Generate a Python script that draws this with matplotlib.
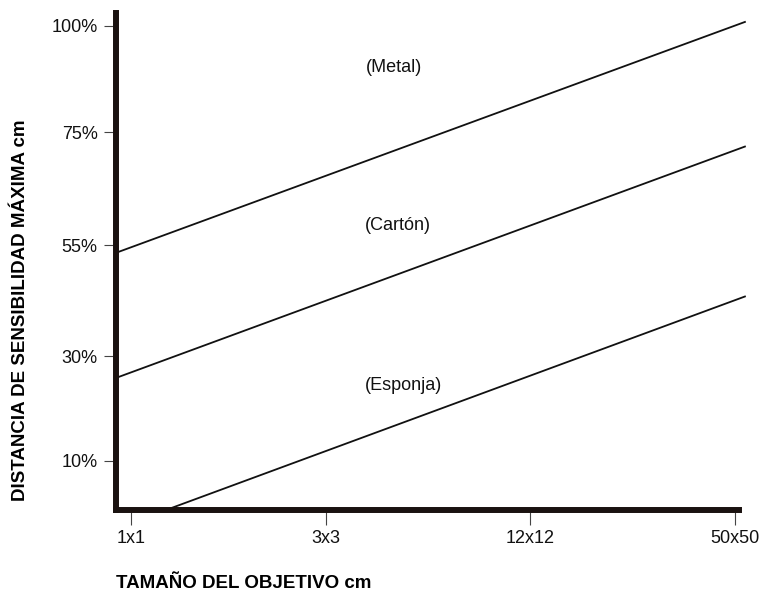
import matplotlib
matplotlib.use('Agg')
import matplotlib.pyplot as plt

plt.rcParams['font.family'] = ['Liberation Sans', 'DejaVu Sans']

# eje X (tamaño del objetivo) y eje Y (distancia)
x_labels = ['1x1', '3x3', '12x12', '50x50']
x_ticks = [0.046, 1.0, 1.998, 3.0]
y_labels = ['10%', '30%', '55%', '75%', '100%']
y_ticks = [9.8, 30.9, 53.2, 76.0, 97.4]

# rectas por material: (x0, y0) -> (x1, y1)
materials = ['(Metal)', '(Cartón)', '(Esponja)']
x_start = [-0.027, -0.027, 0.224]
y_start = [51.7, 26.5, 0.0]
x_end = [3.049, 3.049, 3.049]
y_end = [98.2, 73.1, 42.9]
label_x = [1.196, 1.19, 1.19]
label_y = [89.1, 57.1, 24.9]

W, H = 762, 592
fig = plt.figure(figsize=(W / 100, H / 100), dpi=100)
ax = fig.add_axes([116 / W, (H - 509.5) / H, (739 - 116) / W, (509.5 - 13) / H])

for i in range(len(materials)):
    ax.plot([x_start[i], x_end[i]], [y_start[i], y_end[i]],
            color='#111111', lw=1.3, clip_on=False, zorder=1)
    ax.text(label_x[i], label_y[i], materials[i], fontsize=13,
            ha='left', va='center', color='#111111')

ax.set_xlim(-0.027, 3.02)
ax.set_ylim(0, 100)

for side in ['top', 'right']:
    ax.spines[side].set_visible(False)
for side in ['left', 'bottom']:
    ax.spines[side].set_linewidth(4.3)
    ax.spines[side].set_color('#1a1210')
    ax.spines[side].set_zorder(3)

ax.set_xticks(x_ticks)
ax.set_xticklabels(x_labels)
ax.set_yticks(y_ticks)
ax.set_yticklabels(y_labels)
ax.tick_params(axis='x', length=11, width=0.8, color='#444444', pad=4,
               labelsize=13, labelcolor='#111111')
ax.tick_params(axis='y', length=8.6, width=0.8, color='#444444', pad=4.5,
               labelsize=13, labelcolor='#111111')

fig.text(116 / W, 4.5 / H, 'TAMAÑO DEL OBJETIVO cm', fontsize=13.5,
         fontweight='bold', ha='left', va='baseline')
fig.text(21 / W, 1 - 310 / H, 'DISTANCIA DE SENSIBILIDAD MÁXIMA cm',
         fontsize=13.5, fontweight='bold', rotation=90,
         ha='center', va='center')

fig.savefig('out.png', dpi=100)
